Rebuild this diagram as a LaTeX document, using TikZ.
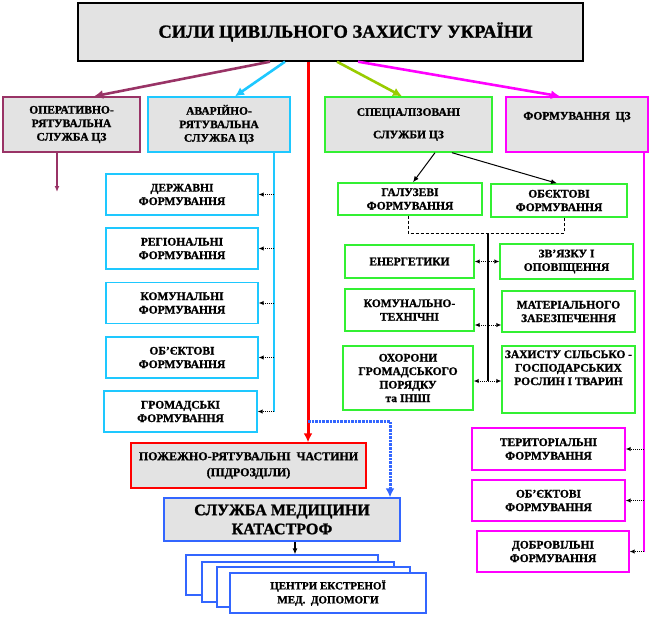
\documentclass[tikz,border=0pt]{standalone}
\usepackage{fontspec}
\setmainfont{Liberation Serif}[BoldFeatures={FakeBold=1.2}]
\usetikzlibrary{arrows.meta}
\definecolor{opcol}{HTML}{993366}
\definecolor{avcol}{HTML}{1EC8FF}
\definecolor{spcol}{HTML}{33F033}
\definecolor{licol}{HTML}{99CC00}
\definecolor{fmcol}{HTML}{FF00FF}
\definecolor{mdcol}{HTML}{3366FF}
\tikzset{
	box/.style={draw, line width=1.4pt, fill=white, align=center, inner sep=1pt,
		font=\bfseries\fontsize{11.5}{13.5}\selectfont},
	grey box/.style={box, fill=gray!22},
	main/.style={line width=2.6pt, -{Latex[length=9pt,width=9pt]}},
	small/.style={black, densely dotted, line width=1pt, -{Latex[length=5pt,width=4.5pt]}},
	pair/.style={small, {Latex[length=5pt,width=4.5pt]}-{Latex[length=5pt,width=4.5pt]}},
}

\begin{document}
\begin{tikzpicture}[x=1pt,y=-1pt]
\useasboundingbox (0,0) rectangle (651,618);
%
	\node[grey box, minimum width=505, minimum height=58, font=\bfseries\fontsize{18.5}{20}\selectfont] (sily) at (330.5,32) {\hspace*{30pt}СИЛИ ЦИВІЛЬНОГО ЗАХИСТУ УКРАЇНИ};
%
	\node[grey box, draw=opcol, minimum width=137, minimum height=55] (oper) at (71.5,124.5) {ОПЕРАТИВНО-\\РЯТУВАЛЬНА\\СЛУЖБА ЦЗ};
	\node[grey box, draw=avcol, minimum width=142, minimum height=55] (avar) at (219,124.5) {АВАРІЙНО-\\РЯТУВАЛЬНА\\СЛУЖБА ЦЗ};
	\node[grey box, draw=spcol, minimum width=167, minimum height=55] (spec) at (408.5,124.5) {СПЕЦІАЛІЗОВАНІ\\[9pt]СЛУЖБИ ЦЗ};
	\node[grey box, draw=fmcol, minimum width=142, minimum height=55] (form) at (577,124.5) {ФОРМУВАННЯ~~ЦЗ\\[4pt]};
%
	\draw[main, opcol] (270,0 |- sily.south) -- (94,0 |- oper.north);
	\draw[main, avcol] (285,0 |- sily.south) -- (235,0 |- avar.north);
	\draw[main, licol] (337,0 |- sily.south) -- (402,0 |- spec.north);
	\draw[main, fmcol] (358,0 |- sily.south) -- (560,0 |- form.north);
%
	\coordinate (opend) at (57,192);
	\draw[opcol, line width=1.5pt, -{Latex[length=6pt,width=5pt]}] (oper.south -| opend) -- (opend);
%
	% avariino-riatuvalna
	\node[box, draw=avcol, minimum width=152, minimum height=41] (derzh) at (182,194.5) {ДЕРЖАВНІ\\ФОРМУВАННЯ};
	\node[box, draw=avcol, minimum width=152, minimum height=41] (regio) at (182,248.5) {РЕГІОНАЛЬНІ\\ФОРМУВАННЯ};
	\node[box, draw=avcol, minimum width=152, minimum height=41] (komun) at (182,303) {КОМУНАЛЬНІ\\ФОРМУВАННЯ};
	\node[box, draw=avcol, minimum width=152, minimum height=41] (obyek) at (182,357.5) {ОБ'ЄКТОВІ\\ФОРМУВАННЯ};
	\node[box, draw=avcol, minimum width=153, minimum height=41] (hrom) at (180.5,411.5) {ГРОМАДСЬКІ\\ФОРМУВАННЯ};
	\coordinate (avend) at (274,0 |- hrom.east);
	\draw[avcol, line width=1.5pt] (avar.south -| avend) -- (avend);
	\foreach \n in {derzh,regio,komun,obyek,hrom}
		\draw[small] (avend |- \n.east) -- (\n.east);
%
	% spetsializovani sluzhby
	\node[box, draw=spcol, minimum width=144, minimum height=32] (galuz) at (410,199) {ГАЛУЗЕВІ\\ФОРМУВАННЯ};
	\node[box, draw=spcol, minimum width=136, minimum height=33] (obsp) at (559,200.5) {ОБЄКТОВІ\\ФОРМУВАННЯ};
	\draw[black, line width=1pt, -{Latex[length=6pt,width=5pt]}] (435,0 |- spec.south) -- (413,0 |- galuz.north);
	\draw[black, line width=1pt, -{Latex[length=6pt,width=5pt]}] (452,0 |- spec.south) -- (557,0 |- obsp.north);
	\coordinate (brl) at (408,233);
	\coordinate (brr) at (564,233);
	\draw[densely dashed, line width=0.8pt] (galuz.south -| brl) -- (brl) -- (brr) -- (obsp.south -| brr);
	\coordinate (trtop) at (488,233);
	\coordinate (trbot) at (488,381);
	\draw[line width=1.3pt] (trtop) -- (trbot);
%
	\node[box, draw=spcol, minimum width=129, minimum height=33] (energ) at (409.5,261.5) {ЕНЕРГЕТИКИ};
	\node[box, draw=spcol, minimum width=133, minimum height=35] (zvyaz) at (566.5,261.5) {ЗВ'ЯЗКУ І\\ОПОВІЩЕННЯ};
	\node[box, draw=spcol, minimum width=129, minimum height=42] (komt) at (409.5,310) {КОМУНАЛЬНО-\\ТЕХНІЧНІ};
	\node[box, draw=spcol, minimum width=133, minimum height=41] (mater) at (568.5,311.5) {МАТЕРІАЛЬНОГО\\ЗАБЕЗПЕЧЕННЯ};
	\node[box, draw=spcol, minimum width=130, minimum height=64] (okh) at (408,378) {ОХОРОНИ\\ГРОМАДСЬКОГО\\ПОРЯДКУ\\та ІНШІ};
	\node[box, draw=spcol, minimum width=133, minimum height=67] (zakh) at (568.5,379.5) {ЗАХИСТУ СІЛЬСЬКО -\\ГОСПОДАРСЬКИХ\\РОСЛИН І ТВАРИН\\[10pt]\mbox{}};
	\draw[pair] (energ.east) -- (zvyaz.west);
	\draw[pair] (komt.east |- 0,325) -- (mater.west |- 0,325);
	\draw[pair] (okh.east |- trbot) -- (zakh.west |- trbot);
%
	% formuvannia tsz
	\node[box, draw=fmcol, minimum width=153, minimum height=42] (terit) at (548.5,449) {ТЕРИТОРІАЛЬНІ\\ФОРМУВАННЯ};
	\node[box, draw=fmcol, minimum width=153, minimum height=41] (obfm) at (548.5,500.5) {ОБ'ЄКТОВІ\\ФОРМУВАННЯ};
	\node[box, draw=fmcol, minimum width=152, minimum height=41] (dobr) at (553,551.5) {ДОБРОВІЛЬНІ\\ФОРМУВАННЯ};
	\coordinate (fmend) at (644,0 |- dobr.east);
	\draw[fmcol, line width=1.5pt] (form.south -| fmend) -- (fmend);
	\foreach \n in {terit,obfm,dobr}
		\draw[small] (fmend |- \n.east) -- (\n.east);
%
	% pozhezhni i medytsyna
	\node[grey box, draw=red, minimum width=235, minimum height=45, font=\bfseries\fontsize{12}{16}\selectfont] (pozh) at (248.5,465.5) {ПОЖЕЖНО-РЯТУВАЛЬНІ~~ЧАСТИНИ\\(ПІДРОЗДІЛИ)};
	\node[grey box, draw=mdcol, minimum width=236, minimum height=43, font=\bfseries\fontsize{16}{19}\selectfont] (med) at (282,519.5) {СЛУЖБА МЕДИЦИНИ\\КАТАСТРОФ};
	\draw[main, red, line width=3pt] (308,0 |- sily.south) -- (308,0 |- pozh.north);
	\coordinate (fork) at (308,421);
	\draw[main, mdcol, densely dotted, line width=3pt] (fork) -| (390,0 |- med.north);
%
	\node[box, draw=mdcol, line width=1.2pt, minimum width=192, minimum height=40] (cen1) at (282,575) {};
	\node[box, draw=mdcol, line width=1.2pt, minimum width=192, minimum height=40] (cen2) at (298,582) {};
	\node[box, draw=mdcol, line width=1.2pt, minimum width=193, minimum height=40] (cen3) at (313.5,587) {};
	\node[box, draw=mdcol, line width=1.2pt, minimum width=196, minimum height=40, font=\bfseries\fontsize{11}{14}\selectfont] (cen4) at (328,593) {ЦЕНТРИ ЕКСТРЕНОЇ\\МЕД.~~ДОПОМОГИ};
	\draw[black, line width=1.5pt, -{Latex[length=6pt,width=5pt]}] (295,0 |- med.south) -- (295,0 |- cen1.north);
\end{tikzpicture}
\end{document}
